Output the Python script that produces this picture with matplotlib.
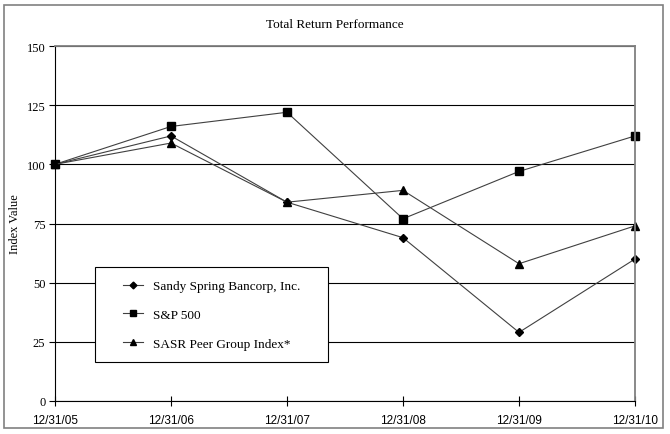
import matplotlib
matplotlib.use('Agg')
import matplotlib.pyplot as plt
from matplotlib.patches import Rectangle

dates = ['12/31/05', '12/31/06', '12/31/07', '12/31/08', '12/31/09', '12/31/10']
sandy = [100, 112, 84, 69, 29, 60]
sp500 = [100, 116, 122, 77, 97, 112]
peer = [100, 109, 84, 89, 58, 74]
yticks = [0, 25, 50, 75, 100, 125, 150]

serif = 'Liberation Serif'
sans = 'Liberation Sans'

fig = plt.figure(figsize=(6.7, 4.35), dpi=100)
# outer frame around the whole chart
fig.patches.append(Rectangle((4/670, 1 - 429/435), 659/670, 423/435,
                             transform=fig.transFigure, fill=False,
                             edgecolor='#808080', linewidth=1.2))

ax = fig.add_axes([55/670, 1 - 402/435, 580/670, 355/435])
x = list(range(len(dates)))

ax.plot(x, sandy, color='#404040', lw=0.8, marker='D', ms=4.3,
        mfc='black', mec='black', clip_on=False, label='Sandy Spring Bancorp, Inc.')
ax.plot(x, sp500, color='#404040', lw=0.8, marker='s', ms=5.8,
        mfc='black', mec='black', clip_on=False, label='S&P 500')
ax.plot(x, peer, color='#404040', lw=0.8, marker='^', ms=6,
        mfc='black', mec='black', clip_on=False, label='SASR Peer Group Index*')

ax.set_xlim(0, len(dates) - 1)
ax.set_ylim(0, 150)
ax.set_yticks(yticks)
ax.set_yticklabels([str(v) for v in yticks], fontfamily=serif, fontsize=9)
ax.set_xticks(x)
ax.set_xticklabels(dates, fontfamily=sans, fontsize=8.5)
ax.tick_params(axis='x', direction='inout', length=7, width=0.8, pad=6)
ax.tick_params(axis='y', direction='out', length=4, width=0.8, pad=3)
ax.grid(axis='y', color='black', lw=0.8)
ax.set_axisbelow(True)

for s in ['top', 'right']:
    ax.spines[s].set_color('#808080')
    ax.spines[s].set_linewidth(1.3)
for s in ['left', 'bottom']:
    ax.spines[s].set_color('black')
    ax.spines[s].set_linewidth(0.8)

ax.set_ylabel('Index Value', fontfamily=serif, fontsize=9, labelpad=4)
fig.text(0.5, 1 - 25/435, 'Total Return Performance', ha='center',
         va='center', fontfamily=serif, fontsize=9.5)

# legend box drawn separately so it sits where the reference has it
box = Rectangle((0.069, 0.11), 0.402, 0.267, transform=ax.transAxes,
                facecolor='white', edgecolor='black', lw=0.8, zorder=5,
                clip_on=False)
ax.add_patch(box)
leg = ax.legend(loc='upper left', bbox_to_anchor=(0.118, 0.341),
                prop={'family': serif, 'size': 9.5}, frameon=False,
                handlelength=1.5, handletextpad=0.75, labelspacing=1.25,
                borderpad=0, borderaxespad=0, markerscale=0.8)
leg.set_zorder(6)

fig.savefig('out.png', dpi=100)
